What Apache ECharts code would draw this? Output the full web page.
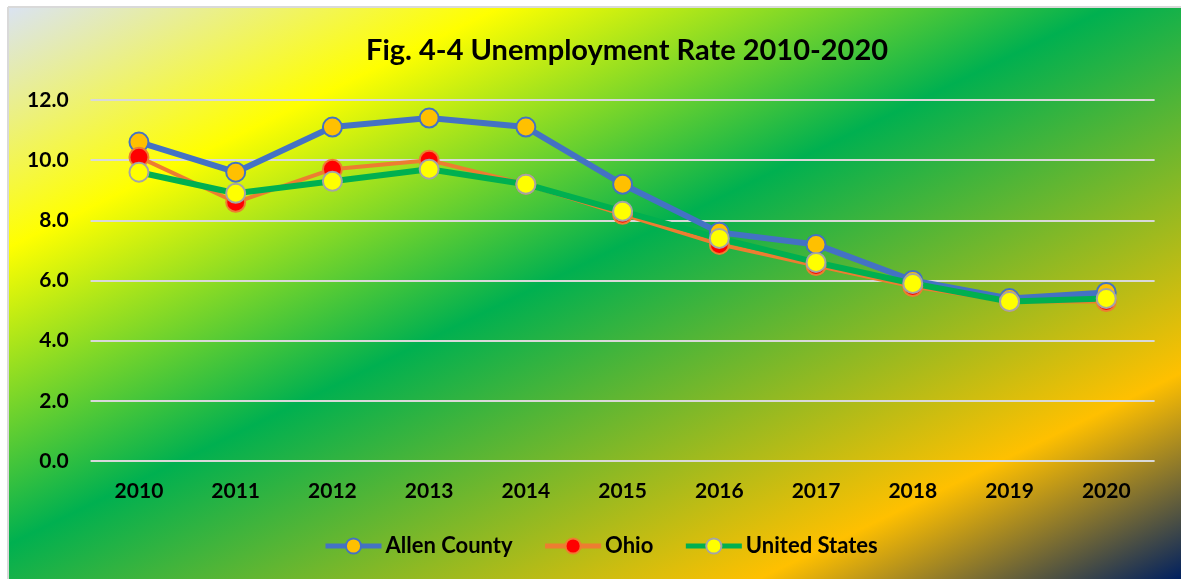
<!DOCTYPE html>
<html><head><meta charset="utf-8">
<script src="https://cdn.jsdelivr.net/npm/echarts@6/dist/echarts.min.js"></script>
<style>html,body{margin:0;padding:0;background:#fff}#c{width:1181px;height:579px}</style>
</head><body><div id="c"></div>
<script>
const years = ['2010','2011','2012','2013','2014','2015','2016','2017','2018','2019','2020'];
const allenCounty = [10.6, 9.6, 11.1, 11.4, 11.1, 9.2, 7.6, 7.2, 6.0, 5.4, 5.6];
const ohio = [10.1, 8.6, 9.7, 10.0, 9.2, 8.2, 7.2, 6.5, 5.8, 5.3, 5.3];
const unitedStates = [9.6, 8.9, 9.3, 9.7, 9.2, 8.3, 7.4, 6.6, 5.9, 5.3, 5.4];
const titleText = 'Fig. 4-4 Unemployment Rate 2010-2020';

const FONT = 'Lato';
const chart = echarts.init(document.getElementById('c'), null, {renderer:'canvas'});
const bg = {
  type:'linear', global:true, x:8, y:7, x2:458.7, y2:931.2,
  colorStops:[
    {offset:0, color:'#dae3f3'},
    {offset:0.21, color:'#ffff00'},
    {offset:0.47, color:'#00b050'},
    {offset:0.82, color:'#ffc000'},
    {offset:1, color:'#002060'}
  ]
};
function mk(name, data, lineColor, lw, fill, border, size){
  return {
    name, type:'line', data,
    symbol:'circle', symbolSize:size,
    lineStyle:{color:lineColor, width:lw},
    itemStyle:{color:fill, borderColor:border, borderWidth:2},
    emphasis:{disabled:true},
    animation:false
  };
}
chart.setOption({
  backgroundColor:bg,
  animation:false,
  title:{text:titleText, left:361, top:31,
    textStyle:{fontFamily:FONT, fontSize:29, fontWeight:'bold', color:'#000'}},
  grid:{left:90.6, right:26.4, top:100, bottom:118},
  legend:{bottom:17, left:318, itemWidth:56, itemHeight:19, itemGap:30,
    textStyle:{fontFamily:FONT, fontSize:22, fontWeight:'bold', color:'#000', padding:[0,0,0,-1]},
    data:[
      {name:'Allen County', lineStyle:{width:5, color:'#4472c4'}},
      {name:'Ohio', lineStyle:{width:5, color:'#ed7d31'}},
      {name:'United States', lineStyle:{width:5, color:'#00b050'}}
    ]},
  xAxis:{type:'category', data:years, boundaryGap:true,
    axisLine:{show:false}, axisTick:{show:false},
    axisLabel:{fontFamily:FONT, fontSize:21, fontWeight:'bold', color:'#000', margin:20}},
  yAxis:{type:'value', min:0, max:12, interval:2,
    axisLabel:{fontFamily:FONT, fontSize:21, fontWeight:'bold', color:'#000', margin:22,
      formatter:v=>v.toFixed(1)},
    splitLine:{lineStyle:{color:'#d9d9d9', width:2}},
    axisLine:{show:false}, axisTick:{show:false}},
  graphic:[
    {type:'rect', shape:{x:0,y:0,width:1181,height:7}, style:{fill:'#fff'}, z:100, silent:true},
    {type:'rect', shape:{x:0,y:0,width:8,height:579}, style:{fill:'#fff'}, z:100, silent:true},
    {type:'line', shape:{x1:8,y1:7,x2:1181,y2:7}, style:{stroke:'#d9d9d9', lineWidth:2}, z:100, silent:true},
    {type:'line', shape:{x1:8,y1:7,x2:8,y2:579}, style:{stroke:'#d9d9d9', lineWidth:2}, z:100, silent:true}
  ],
  series:[
    mk('Allen County', allenCounty, '#4472c4', 6, '#ffc000', '#4472c4', 19),
    mk('Ohio', ohio, '#ed7d31', 4, '#ff0000', '#ed7d31', 19),
    mk('United States', unitedStates, '#00b050', 6, '#ffff00', '#a5a5a5', 19)
  ]
});
</script></body></html>
